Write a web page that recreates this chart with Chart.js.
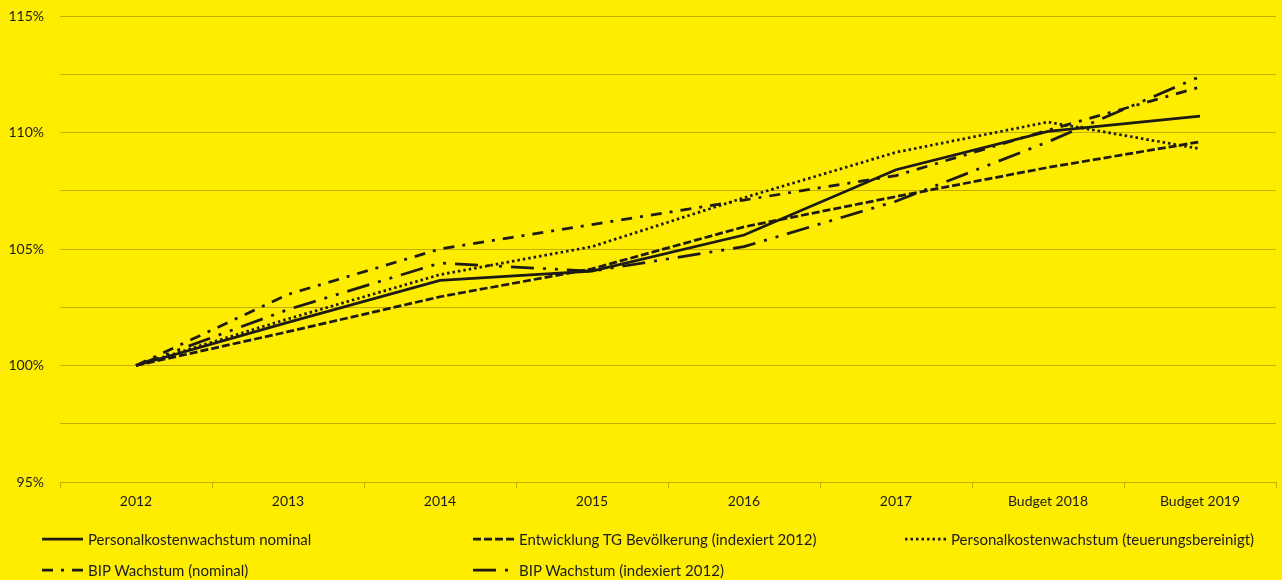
<!DOCTYPE html>
<html lang="de">
<head>
<meta charset="utf-8">
<title>Personalkosten- und BIP-Wachstum</title>
<script src="https://cdn.jsdelivr.net/npm/chart.js@4.4.1/dist/chart.umd.min.js"></script>
<style>
  html, body { margin: 0; padding: 0; background: #ffed00; }
  #wrap { position: relative; width: 1282px; height: 580px; background: #ffed00; overflow: hidden; }
  #chart { position: absolute; left: 0; top: 0; }
  #legend { position: absolute; left: 0; top: 0; width: 1282px; height: 580px; pointer-events: none; }
  .item { position: absolute; display: flex; align-items: center; height: 20px;
          font-family: Lato, "Open Sans", sans-serif; font-size: 15px; color: #1c1c1c; white-space: nowrap; }
  .item svg { margin-right: 5px; }
</style>
</head>
<body>
<div id="wrap">
  <canvas id="chart" width="1282" height="580"></canvas>
  <div id="legend"></div>
</div>
<script>
// Kategorien (Jahre) und Reihen, indexiert auf 2012 = 100 %
const years = ['2012', '2013', '2014', '2015', '2016', '2017', 'Budget 2018', 'Budget 2019'];

const personalNominal   = [100, 101.85, 103.65, 104.05, 105.6, 108.4, 110.05, 110.7];
const bevoelkerungTG    = [100, 101.45, 102.95, 104.15, 105.95, 107.25, 108.5, 109.6];
const personalReal      = [100, 102.0, 103.9, 105.1, 107.2, 109.15, 110.45, 109.3];
const bipNominal        = [100, 103.05, 105.0, 106.05, 107.1, 108.15, 110.1, 111.95];
const bipIndexiert      = [100, 102.4, 104.4, 104.05, 105.1, 107.05, 109.6, 112.4];

const seriesNames = [
  'Personalkostenwachstum nominal',
  'Entwicklung TG Bevölkerung (indexiert 2012)',
  'Personalkostenwachstum (teuerungsbereinigt)',
  'BIP Wachstum (nominal)',
  'BIP Wachstum (indexiert 2012)'
];

const yMin = 95, yMax = 115, yStep = 2.5;

const ink = '#1e1b14';
const gridColor = '#c4b000';
const textColor = '#1c1c1c';
const fontFamily = 'Lato, "Open Sans", sans-serif';

const dashes = [
  [],
  [8, 3],
  [2.5, 3],
  [11, 8, 3, 8],
  [23, 9, 3, 9, 3, 9]
];
const values = [personalNominal, bevoelkerungTG, personalReal, bipNominal, bipIndexiert];

const datasets = values.map((data, i) => ({
  label: seriesNames[i],
  data: data,
  borderColor: ink,
  backgroundColor: ink,
  borderWidth: 2.75,
  borderDash: dashes[i],
  borderCapStyle: 'butt',
  pointRadius: 0,
  pointHoverRadius: 0,
  tension: 0,
  fill: false
}));

const chart = new Chart(document.getElementById('chart'), {
  type: 'line',
  data: { labels: years, datasets: datasets },
  options: {
    responsive: false,
    devicePixelRatio: 1,
    animation: false,
    events: [],
    layout: { padding: { top: 16, right: 6, left: 0, bottom: 0 } },
    plugins: {
      legend: { display: false },
      tooltip: { enabled: false }
    },
    scales: {
      x: {
        type: 'category',
        offset: true,
        grid: {
          offset: true,
          drawOnChartArea: false,
          drawTicks: true,
          tickLength: 6,
          color: gridColor,
          lineWidth: 1
        },
        border: { display: true, color: gridColor, width: 1 },
        ticks: {
          color: textColor,
          font: { family: fontFamily, size: 14 },
          padding: 5,
          maxRotation: 0,
          autoSkip: false
        },
        afterFit: (scale) => { scale.height = 98; }
      },
      y: {
        min: yMin,
        max: yMax,
        grid: {
          drawTicks: false,
          color: gridColor,
          lineWidth: 1
        },
        border: { display: false },
        ticks: {
          stepSize: yStep,
          color: textColor,
          font: { family: fontFamily, size: 14 },
          padding: 16,
          callback: (v) => (v % 5 === 0 ? v + '%' : '')
        },
        afterFit: (scale) => {
          scale.width = 60;
          scale.paddingTop = 0;
          scale.paddingBottom = 0;
        }
      }
    }
  }
});

// Legende in drei Spalten unterhalb des Diagramms
const legendEl = document.getElementById('legend');
const colX = [42, 473, 905];
const rowY = [529, 560];
chart.data.datasets.forEach((ds, i) => {
  const item = document.createElement('div');
  item.className = 'item';
  item.style.left = colX[i % 3] + 'px';
  item.style.top = rowY[Math.floor(i / 3)] + 'px';
  const svgNS = 'http://www.w3.org/2000/svg';
  const svg = document.createElementNS(svgNS, 'svg');
  svg.setAttribute('width', '41');
  svg.setAttribute('height', '6');
  const line = document.createElementNS(svgNS, 'line');
  line.setAttribute('x1', '0');
  line.setAttribute('x2', '41');
  line.setAttribute('y1', '3');
  line.setAttribute('y2', '3');
  line.setAttribute('stroke', ds.borderColor);
  line.setAttribute('stroke-width', ds.borderWidth);
  if (ds.borderDash.length) line.setAttribute('stroke-dasharray', ds.borderDash.join(' '));
  svg.appendChild(line);
  const txt = document.createElement('span');
  txt.textContent = ds.label;
  item.appendChild(svg);
  item.appendChild(txt);
  legendEl.appendChild(item);
});
</script>
</body>
</html>
